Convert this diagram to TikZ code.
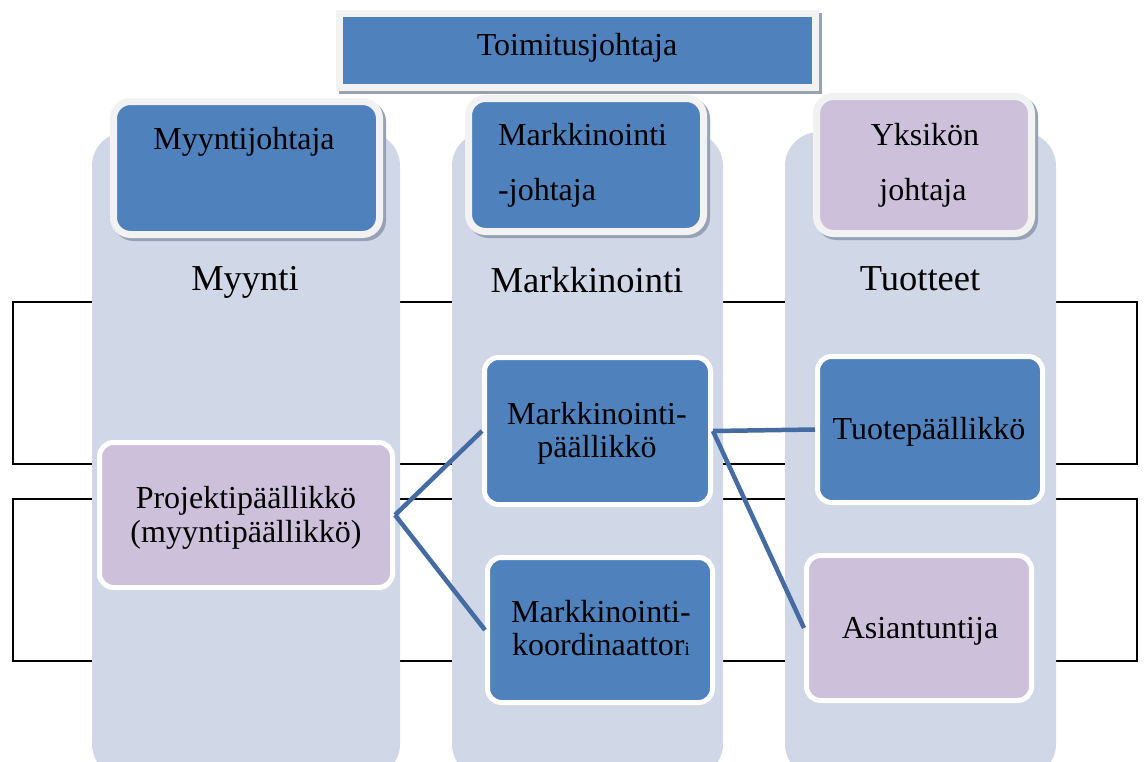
\documentclass[tikz,border=0pt]{standalone}
\usepackage{fontspec}
\setmainfont{Liberation Serif}
\definecolor{boxblue}{RGB}{79,129,189}
\definecolor{boxlilac}{RGB}{204,192,218}
\definecolor{colfill}{RGB}{208,216,232}
\definecolor{framegray}{RGB}{242,242,242}
\definecolor{shadowgray}{RGB}{150,161,180}
\definecolor{linkblue}{RGB}{68,108,163}
\tikzset{
  bracket/.style={draw=black, line width=2pt},
  column/.style={fill=colfill, rounded corners=34pt},
  headbox/.style={rectangle, inner sep=0pt, draw=framegray, line width=7pt,
    preaction={fill=shadowgray, draw=shadowgray, line width=7pt,
      transform canvas={xshift=3pt, yshift=-3pt}}},
  unitbox/.style={rectangle, inner sep=0pt, rounded corners=14pt, draw=white, line width=5pt},
  link/.style={draw=linkblue, line width=4.5pt},
  lbl/.style={inner sep=0pt, text=black, font=\fontsize{32}{35}\selectfont},
  title/.style={inner sep=0pt, text=black, font=\fontsize{36.5}{40}\selectfont},
}
\begin{document}
\begin{tikzpicture}[x=1pt, y=-1pt]
\useasboundingbox (0,0) rectangle (1144,761);
\clip (0,0) rectangle (1144,761);
\fill[white] (0,0) rectangle (1144,761);

% brackets behind the columns
\draw[bracket] (13,302) rectangle (1137,464);
\draw[bracket] (13,499) rectangle (1137,661);

% department columns
\fill[column] (92,132) rectangle (400,778);
\fill[column] (452,132) rectangle (723,778);
\fill[column] (785,132) rectangle (1056,778);

% managers
\node[headbox, fill=boxblue, minimum width=476pt, minimum height=74pt] (ceo) at (577,50.5) {};
\node[headbox, rounded corners=17pt, fill=boxblue, minimum width=266pt, minimum height=133pt] (h1) at (246.5,168) {};
\node[headbox, rounded corners=17pt, fill=boxblue, minimum width=235pt, minimum height=133pt] (h2) at (586,165) {};
\node[headbox, rounded corners=17pt, fill=boxlilac, minimum width=215pt, minimum height=137pt] (h3) at (924,165) {};

% staff boxes
\node[unitbox, fill=boxlilac, minimum width=293pt, minimum height=145pt] (proj) at (246,515) {};
\node[unitbox, fill=boxblue, minimum width=226pt, minimum height=147pt] (mpaal) at (597.5,431) {};
\node[unitbox, fill=boxblue, minimum width=225pt, minimum height=145pt] (mkoord) at (600,630) {};
\node[unitbox, fill=boxblue, minimum width=225pt, minimum height=146pt] (tuote) at (930,429.5) {};
\node[unitbox, fill=boxlilac, minimum width=225pt, minimum height=145pt] (asian) at (919,628) {};

% connectors
\draw[link] (proj.east) -- (mpaal.west);
\draw[link] (proj.east) -- (mkoord.west);
\draw[link] (mpaal.east) -- (tuote.west);
\draw[link] (mpaal.east) -- (asian.west);

% texts
\node[lbl, anchor=base] (tceo) at (577,55) {Toimitusjohtaja};
\node[lbl, anchor=base] (th1) at (244,149) {Myyntijohtaja};
\node[lbl, anchor=base west] (th2a) at (498,145) {Markkinointi};
\node[lbl, anchor=base west] (th2b) at (498,200) {-johtaja};
\node[lbl, anchor=base] (th3a) at (925,145) {Yksikön};
\node[lbl, anchor=base] (th3b) at (923,200) {johtaja};

\node[title, anchor=base] (c1) at (245,290) {Myynti};
\node[title, anchor=base] (c2) at (587,292) {Markkinointi};
\node[title, anchor=base] (c3) at (920,290) {Tuotteet};

\node[lbl, anchor=base] (tproja) at (246,508) {Projektipäällikkö};
\node[lbl, anchor=base] (tprojb) at (246,542) {(myyntipäällikkö)};
\node[lbl, anchor=base] (tmpa) at (597,424) {Markkinointi-};
\node[lbl, anchor=base] (tmpb) at (597,457) {päällikkö};
\node[lbl, anchor=base] (tmka) at (601,622) {Markkinointi-};
\node[lbl, anchor=base] (tmkb) at (601,655) {koordinaattor{\fontsize{19}{19}\selectfont i}};
\node[lbl, anchor=base] (ttuote) at (929,439) {Tuotepäällikkö};
\node[lbl, anchor=base] (tasian) at (920,638) {Asiantuntija};
\end{tikzpicture}
\end{document}
